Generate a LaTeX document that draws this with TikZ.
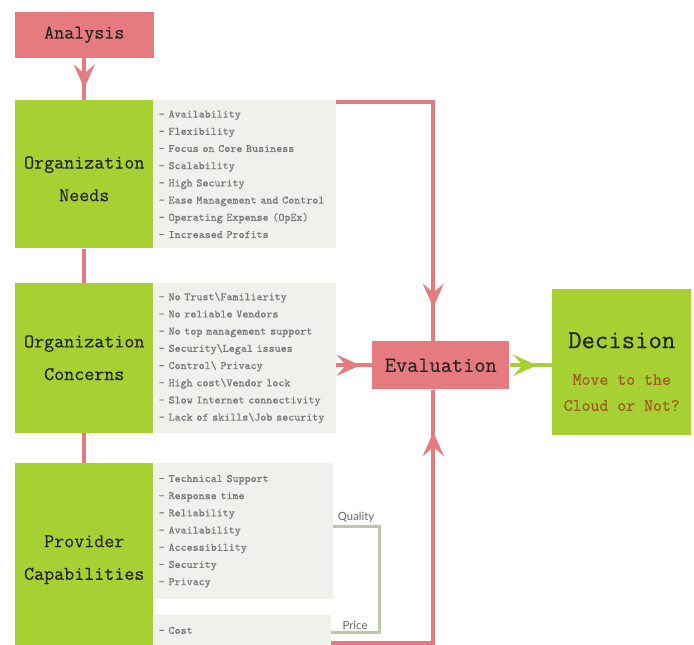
\documentclass[tikz,border=0pt]{standalone}
\usepackage{fontspec}
\usepackage{tikz}
\usetikzlibrary{positioning}
\usetikzlibrary{arrows.meta}
\usetikzlibrary{decorations.markings}
\newfontfamily\tagfont{Lato}
\newfontfamily\titlefont{Latin Modern Mono}[FakeBold=0.5]
\newfontfamily\itemfont{Latin Modern Mono}[FakeBold=0.4]
\definecolor{boxred}{HTML}{E57B7F}
\definecolor{boxgreen}{HTML}{A7D132}
\definecolor{listgray}{HTML}{F0F0EC}
\definecolor{itemgray}{HTML}{7A7A7A}
\definecolor{answerbrown}{HTML}{A0581F}
\definecolor{sage}{HTML}{B9CAA6}
\tikzset{	node distance=0pt,
	chev/.tip={Stealth[length=18pt, width=16pt, inset=7pt, line width=0pt]},
	block/.style={
		minimum width=103.5pt,
		inner sep=0pt,
		align=center,
		text=black!85},
	redblock/.style={block, fill=boxred,
		font=\titlefont\fontsize{14.6}{18}\selectfont},
	greenblock/.style={block, fill=boxgreen,
		font=\titlefont\fontsize{14.6}{24.5}\selectfont},
	listbox/.style={
		fill=listgray,
		text=itemgray,
		align=left,
		inner xsep=3.75pt,
		inner ysep=0pt,
		font=\itemfont\fontsize{8.5}{12.9}\selectfont},
	link/.style={draw, color=boxred, line width=3pt},
	greenlink/.style={draw, color=boxgreen, line width=3pt},
	bracket/.style={draw=sage, line width=2.25pt},
	tag/.style={text=black!60, font=\tagfont\fontsize{8.5}{9}\selectfont, inner sep=1.5pt},
	midarrow/.style={postaction={decorate},
		decoration={markings, mark=at position #1 with {\arrow{chev}}}}
}
\begin{document}
\begin{tikzpicture}[x=0.75pt, y=-0.75pt]
\useasboundingbox (0,0) rectangle (694,644);
\node[greenblock, minimum height=111pt, anchor=north west] (needs) at (15,100) {\rule{0pt}{16pt}Organization\\Needs};
\node[redblock, minimum width=104.25pt, minimum height=34.5pt, above=31.5pt of needs] (analysis) {Analysis};
\node[listbox, text width=129pt, minimum height=111pt, right=0pt of needs] (needslist) {%
- Availability\\- Flexibility\\- Focus on Core Business\\- Scalability\\- High Security\\%
- Ease Management and Control\\- Operating Expense (OpEx)\\- Increased Profits};
\node[greenblock, minimum height=112.5pt, below=25.5pt of needs] (concerns) {Organization\\Concerns};
\node[listbox, text width=129pt, minimum height=112.5pt, right=0pt of concerns] (concernslist) {%
- No Trust\textbackslash Familiarity\\- No reliable Vendors\\- No top management support\\%
- Security\textbackslash Legal issues\\- Control\textbackslash{} Privacy\\- High cost\textbackslash Vendor lock\\%
- Slow Internet connectivity\\- Lack of skills\textbackslash Job security};
\node[greenblock, minimum height=136.5pt, below=22.5pt of concerns] (provider) {\rule{0pt}{17pt}Provider\\Capabilities};
\node[listbox, text width=126.75pt, minimum height=102pt, right=0pt of provider.north east, anchor=north west] (providerlist) {%
- Technical Support\\- Response time\\- Reliability\\- Availability\\- Accessibility\\- Security\\- Privacy};
\node[listbox, text width=125.25pt, minimum height=23.25pt, below=11.25pt of providerlist.south west, anchor=north west] (costlist) {- Cost};
\node[redblock, minimum width=102.75pt, minimum height=36pt, font=\titlefont\fontsize{16.3}{18}\selectfont, anchor=north west] (evaluation) at (372,341) {Evaluation};
\node[greenblock, minimum width=104.25pt, minimum height=109.5pt, font=\titlefont\fontsize{13}{19.5}\selectfont, anchor=north west] (decision) at (552,289) {%
\rule{0pt}{26pt}{\fontsize{19.5}{22}\selectfont Decision}\\[8pt]\textcolor{answerbrown}{Move to the}\\\textcolor{answerbrown}{Cloud or Not?}};

\draw[link, midarrow=0.72] (analysis) -- (needs);
\draw[link] (needs) -- (concerns);
\draw[link] (concerns) -- (provider);
\draw[link, midarrow=0.9] ([yshift=-1.5pt]needslist.north east) -| ([xshift=-5.6pt]evaluation.north);
\draw[link, midarrow=0.68] (evaluation.west -| concernslist.east) -- (evaluation.west);
\draw[link, midarrow=0.88] ([yshift=2.25pt]costlist.south east) -| ([xshift=-5.6pt]evaluation.south);
\draw[greenlink, midarrow=0.65] (evaluation.east) -- (evaluation.east -| decision.west);
\draw[bracket] ([yshift=3.75pt]providerlist.east) -- ++(34.5pt,0) node[tag, midway, above] (quality) {Quality}
	|- ([yshift=-1.9pt]costlist.east) node[tag, pos=0.75, above] (price) {Price};
\end{tikzpicture}
\end{document}
